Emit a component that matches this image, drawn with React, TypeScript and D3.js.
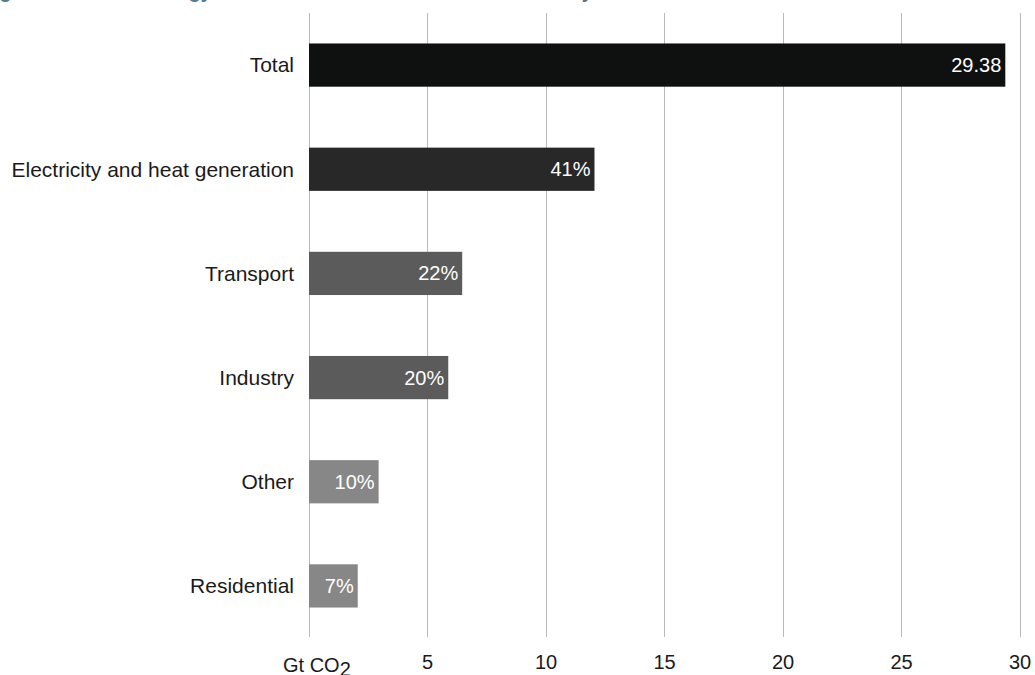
import React from "react";
import * as d3 from "d3";

// Sectors, top to bottom
const categories = [
  "Total",
  "Electricity and heat generation",
  "Transport",
  "Industry",
  "Other",
  "Residential",
];

// Total emissions in Gt CO2 and each sector's share of it (%)
const totalGt = 29.38;
const shares = [100, 41, 22, 20, 10, 7];

// In-bar labels
const barLabels = ["29.38", "41%", "22%", "20%", "10%", "7%"];

const barColors = ["#0f1010", "#282828", "#5a5b5a", "#5a5b5a", "#878787", "#878787"];

const xTicks = [5, 10, 15, 20, 25, 30];

const W = 1035;
const H = 675;
const FONT = "'Liberation Sans', Arial, Helvetica, sans-serif";

export default function App() {
  const values = shares.map((s, i) => (i === 0 ? totalGt : (totalGt * s) / 100));

  const x = d3.scaleLinear().domain([0, 30]).range([309, 1020]);
  const y = d3
    .scaleBand<string>()
    .domain(categories)
    .range([13, 638])
    .paddingInner(0.585)
    .paddingOuter(0.2925);

  const gridTop = 13;
  const gridBottom = 637;

  return (
    <svg
      width={W}
      height={H}
      style={{ position: "absolute", left: 0, top: 0, background: "#fff" }}
      fontFamily={FONT}
    >
      {/* figure title, sitting above the top edge */}
      <text x={-17.8} y={-2.5} fontSize={19.6} fontWeight="bold" fill="#56778c">
        Figure 1.1: World energy CO2 emissions from fuel combustion by sector
      </text>

      {/* gridlines and zero line */}
      {[0, ...xTicks].map((t) => (
        <line
          key={t}
          x1={x(t)}
          x2={x(t)}
          y1={gridTop}
          y2={gridBottom}
          stroke="#bababa"
          strokeWidth={1}
          shapeRendering="crispEdges"
        />
      ))}

      {/* bars */}
      {categories.map((c, i) => (
        <rect
          key={c}
          x={x(0)}
          y={y(c)}
          width={x(values[i]) - x(0)}
          height={y.bandwidth()}
          fill={barColors[i]}
        />
      ))}

      {/* value labels inside bars */}
      {categories.map((c, i) => (
        <text
          key={c}
          x={x(values[i]) - 4}
          y={(y(c) as number) + y.bandwidth() / 2}
          dy="0.35em"
          textAnchor="end"
          fontSize={20}
          fill="#ffffff"
        >
          {barLabels[i]}
        </text>
      ))}

      {/* category labels */}
      {categories.map((c) => (
        <text
          key={c}
          x={294}
          y={(y(c) as number) + y.bandwidth() / 2}
          dy="0.35em"
          textAnchor="end"
          fontSize={21}
          fill="#1a1a1a"
        >
          {c}
        </text>
      ))}

      {/* x tick labels */}
      {xTicks.map((t) => (
        <text key={t} x={x(t)} y={669} textAnchor="middle" fontSize={20} fill="#1a1a1a">
          {t}
        </text>
      ))}

      {/* unit label */}
      <text x={283} y={672} fontSize={20} fill="#1a1a1a">
        Gt CO
        <tspan dy={4}>2</tspan>
      </text>
    </svg>
  );
}
